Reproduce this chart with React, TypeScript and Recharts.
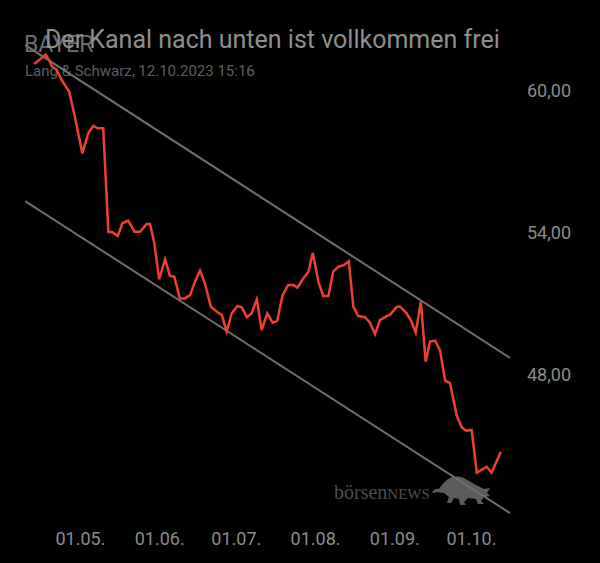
import React from 'react';
import { LineChart, Line, XAxis, YAxis } from 'recharts';

// days relative to 01.05.2023
const days = [-18.1,-13.6,-12.3,-11.3,-9.3,-7.4,-4.4,-2.2,0.7,3.1,5.0,6.7,8.9,10.9,12.5,14.6,16.4,18.7,21.1,23.3,25.9,27.2,28.8,30.8,33.1,35.0,36.7,38.9,40.9,42.9,44.8,46.8,48.7,51.0,53.9,55.3,57.2,59.2,61.4,63.1,65.1,67.0,69.0,70.9,73.1,75.2,77.0,79.1,81.3,83.3,84.9,87.0,89.2,90.9,93.1,95.0,97.0,98.9,100.9,103.1,105.0,106.8,108.7,111.4,113.3,115.3,117.2,119.8,121.1,123.8,125.1,127.7,129.6,131.2,133.2,135.1,136.8,138.8,140.7,142.7,144.6,147.2,149.2,150.9,153.1,155.1,159.0,160.9,164.5];
const prices = [61.14,61.54,61.31,61.06,60.89,60.47,59.97,58.91,57.36,58.23,58.52,58.42,58.42,54.04,54.02,53.86,54.40,54.51,54.04,54.04,54.37,54.37,53.62,52.03,52.87,52.17,52.14,51.22,51.22,51.36,51.93,52.39,51.86,50.87,50.61,50.52,49.81,50.59,50.90,50.84,50.42,50.59,51.18,49.88,50.59,50.19,50.27,51.36,51.79,51.79,51.67,52.03,52.35,53.15,51.93,51.32,51.32,52.35,52.56,52.63,52.79,50.87,50.47,50.42,50.19,49.71,50.30,50.47,50.52,50.87,50.87,50.59,50.23,49.77,51.08,48.54,49.39,49.43,49.03,47.74,47.63,46.28,45.76,45.62,45.65,43.84,44.09,43.84,44.73];

const channelDays = [-21.72, 168.1];
const upperChannel = [61.95, 48.70];
const lowerChannel = [55.34, 42.13];

const xTicks = [0, 31, 61, 92, 123, 153];
const xTickLabels = ['01.05.', '01.06.', '01.07.', '01.08.', '01.09.', '01.10.'];
const yTicks = [48, 54, 60];

const title = 'Der Kanal nach unten ist vollkommen frei';
const stockName = 'BAYER';
const subtitle = 'Lang & Schwarz, 12.10.2023 15:16';

const mainData = days.map((d, i) => ({ d, v: prices[i] }));
const upperData = channelDays.map((d, i) => ({ d, v: upperChannel[i] }));
const lowerData = channelDays.map((d, i) => ({ d, v: lowerChannel[i] }));

const FONT = 'Roboto, "Noto Sans", sans-serif';

export default function App() {
  return (
    <div style={{ position: 'fixed', left: 0, top: 0, width: 600, height: 563, background: '#000', overflow: 'hidden' }}>
      <div style={{ position: 'absolute', left: 24, top: 33, fontFamily: FONT, fontSize: 23, color: '#6e6e6e', lineHeight: 1 }}>{stockName}</div>
      <div style={{ position: 'absolute', left: 45, top: 27, fontFamily: FONT, fontSize: 25, color: '#8f8f8f', lineHeight: 1, whiteSpace: 'nowrap' }}>{title}</div>
      <div style={{ position: 'absolute', left: 25, top: 64, fontFamily: FONT, fontSize: 15, color: '#5e5e5e', lineHeight: 1, whiteSpace: 'nowrap' }}>{subtitle}</div>
      <div style={{ position: 'absolute', left: 334, top: 482, fontFamily: '"Liberation Serif", "DejaVu Serif", serif', fontSize: 20, color: '#4e4e4e', lineHeight: 1, whiteSpace: 'nowrap' }}>
        börsen<span style={{ fontSize: 15 }}>NEWS</span>
      </div>
      <svg style={{ position: 'absolute', left: 432, top: 474 }} width={64} height={36} viewBox="0 0 64 36">
        <path d="M0,18 C2,15 5,14 7,15 C10,10 14,6 18,4 C22,2 28,2 32,4 L44,11 L52,15 L58,14 L55,19 L58,22 L52,23 L49,27 L52,30 L46,30 L44,25 L36,24 L32,28 L34,31 L28,31 L27,25 L22,24 L19,29 L15,29 L17,23 L12,19 C8,19 4,17 2,19 Z" fill="#5c5c5c" />
      </svg>
      <div style={{ position: 'absolute', left: 0, top: 0 }}>
        <LineChart width={600} height={563} data={mainData} margin={{ top: 30, right: 0, bottom: 0, left: 25 }}>
          <XAxis
            dataKey="d"
            type="number"
            domain={[-21.72, 168.1]}
            allowDataOverflow
            ticks={xTicks}
            tickFormatter={(v: number) => xTickLabels[xTicks.indexOf(v)] ?? ''}
            axisLine={false}
            tickLine={false}
            tickMargin={6}
            height={43}
            tick={{ fill: '#8c8c8c', fontSize: 18, fontFamily: FONT }}
          />
          <YAxis
            dataKey="v"
            type="number"
            orientation="right"
            domain={[41.837, 62.583]}
            allowDataOverflow
            ticks={yTicks}
            tickFormatter={(v: number) => v.toFixed(2).replace('.', ',')}
            axisLine={false}
            tickLine={false}
            tickMargin={11}
            width={90}
            tick={{ fill: '#8c8c8c', fontSize: 18, fontFamily: FONT, textAnchor: 'start' }}
          />
          <Line data={upperData} dataKey="v" stroke="#6f6f6f" strokeWidth={2} dot={false} isAnimationActive={false} type="linear" />
          <Line data={lowerData} dataKey="v" stroke="#6f6f6f" strokeWidth={2} dot={false} isAnimationActive={false} type="linear" />
          <Line dataKey="v" stroke="#ec4130" strokeWidth={2.5} dot={false} isAnimationActive={false} type="linear" />
        </LineChart>
      </div>
    </div>
  );
}
